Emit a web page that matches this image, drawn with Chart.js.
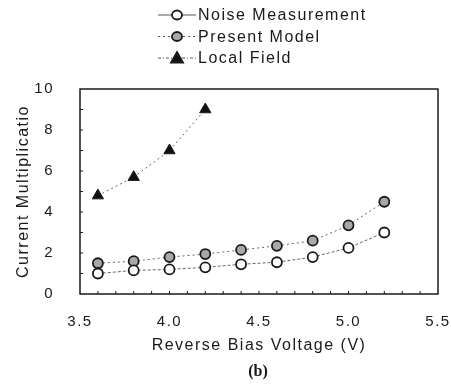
<!DOCTYPE html>
<html lang="en">
<head>
  <meta charset="UTF-8" />
  <title>Current Multiplication vs Reverse Bias</title>
  <script src="https://cdn.jsdelivr.net/npm/chart.js"></script>
  <style>
    body { margin: 0; background: #fff; }
    canvas { display: block; }
  </style>
</head>
<body>

<canvas id="multChart" width="451" height="390"></canvas>

<script>
  const voltage = [3.6, 3.8, 4.0, 4.2, 4.4, 4.6, 4.8, 5.0, 5.2];
  const noiseMeasurement = [1.0, 1.15, 1.2, 1.3, 1.45, 1.55, 1.8, 2.25, 3.0];
  const presentModel = [1.5, 1.6, 1.8, 1.95, 2.15, 2.35, 2.6, 3.35, 4.5];
  const localFieldVoltage = [3.6, 3.8, 4.0, 4.2];
  const localField = [4.8, 5.7, 7.0, 9.0];
  const xTicks = [3.5, 4.0, 4.5, 5.0, 5.5];
  const yTicks = [0, 2, 4, 6, 8, 10];

  const FONT = "'Liberation Sans', Arial, sans-serif";
  const ink = "#1a1a1a";

  function pairs(xs, ys) {
    return ys.map((y, i) => ({ x: xs[i], y: y }));
  }

  // frame, inward ticks, legend and caption
  const decorations = {
    id: "decorations",
    beforeDraw(chart) {
      chart.ctx.letterSpacing = "1.5px";
    },
    afterDraw(chart) {
      const ctx = chart.ctx;
      const a = chart.chartArea;
      const xs = chart.scales.x, ys = chart.scales.y;
      ctx.save();
      ctx.letterSpacing = "0px";
      ctx.strokeStyle = ink;
      ctx.lineWidth = 1.5;
      ctx.strokeRect(a.left, a.top, a.right - a.left, a.bottom - a.top);

      ctx.lineWidth = 1;
      for (let v = 1; v < 10; v++) {
        const y = ys.getPixelForValue(v);
        ctx.beginPath(); ctx.moveTo(a.left, y); ctx.lineTo(a.left + 3, y); ctx.stroke();
      }
      for (let v = 36; v < 55; v++) {
        const x = xs.getPixelForValue(v / 10);
        ctx.beginPath(); ctx.moveTo(x, a.bottom); ctx.lineTo(x, a.bottom - 3); ctx.stroke();
      }

      // legend
      const rows = [
        { label: "Noise Measurement", dash: [], ds: 0 },
        { label: "Present Model", dash: [2, 3], ds: 1 },
        { label: "Local Field", dash: [3, 2, 1, 2], ds: 2 }
      ];
      rows.forEach((r, i) => {
        const y = 15 + i * 21.5;
        ctx.strokeStyle = "#555";
        ctx.lineWidth = 1;
        ctx.setLineDash(r.dash);
        ctx.beginPath(); ctx.moveTo(158, y); ctx.lineTo(196, y); ctx.stroke();
        ctx.setLineDash([]);
        const d = chart.data.datasets[r.ds];
        ctx.fillStyle = d.pointBackgroundColor;
        ctx.strokeStyle = ink;
        ctx.lineWidth = 1.8;
        ctx.beginPath();
        if (d.pointStyle === "triangle") {
          ctx.moveTo(177, y - 6); ctx.lineTo(183, y + 4.5); ctx.lineTo(171, y + 4.5); ctx.closePath();
        } else {
          ctx.ellipse(177, y, 5, 4.5, 0, 0, Math.PI * 2);
        }
        ctx.fill(); ctx.stroke();
        ctx.fillStyle = ink;
        ctx.letterSpacing = "1.5px";
        ctx.font = "16px " + FONT;
        ctx.textBaseline = "middle";
        ctx.textAlign = "left";
        ctx.fillText(r.label, 198, y + 1);
        ctx.letterSpacing = "0px";
      });

      ctx.font = "bold 16px 'Liberation Serif', serif";
      ctx.textAlign = "center";
      ctx.textBaseline = "middle";
      ctx.fillText("(b)", 258, 372);
      ctx.restore();
    }
  };

  new Chart(document.getElementById("multChart").getContext("2d"), {
    type: "scatter",
    data: {
      datasets: [
        {
          label: "Noise Measurement",
          data: pairs(voltage, noiseMeasurement),
          showLine: true,
          borderColor: "#666",
          borderWidth: 1,
          borderDash: [3, 2],
          pointStyle: "circle",
          pointRadius: 5,
          pointBorderWidth: 1.8,
          pointBorderColor: ink,
          pointBackgroundColor: "#ffffff"
        },
        {
          label: "Present Model",
          data: pairs(voltage, presentModel),
          showLine: true,
          borderColor: "#666",
          borderWidth: 1,
          borderDash: [2, 3],
          pointStyle: "circle",
          pointRadius: 5,
          pointBorderWidth: 1.8,
          pointBorderColor: ink,
          pointBackgroundColor: "#a8a8a8"
        },
        {
          label: "Local Field",
          data: pairs(localFieldVoltage, localField),
          showLine: true,
          borderColor: "#666",
          borderWidth: 1,
          borderDash: [2, 3],
          pointStyle: "triangle",
          pointRadius: 6.5,
          pointBorderWidth: 1,
          pointBorderColor: ink,
          pointBackgroundColor: "#111111"
        }
      ]
    },
    options: {
      responsive: false,
      animation: false,
      layout: { padding: { left: 0, right: 13, top: 89, bottom: 28 } },
      plugins: {
        legend: { display: false },
        tooltip: { enabled: false }
      },
      scales: {
        x: {
          type: "linear",
          min: 3.5,
          max: 5.5,
          afterBuildTicks: (s) => { s.ticks = xTicks.map(v => ({ value: v })); },
          afterFit: (s) => { s.height = 68; s.paddingRight = 0; s.paddingLeft = 0; },
          grid: { display: false },
          border: { display: false },
          ticks: {
            color: ink,
            font: { family: FONT, size: 15 },
            padding: 11,
            maxRotation: 0,
            callback: (v) => v.toFixed(1)
          },
          title: {
            display: true,
            text: "Reverse Bias Voltage (V)",
            color: ink,
            font: { family: FONT, size: 16 },
            padding: { top: 0, bottom: 7 }
          }
        },
        y: {
          min: 0,
          max: 10,
          afterBuildTicks: (s) => { s.ticks = yTicks.map(v => ({ value: v })); },
          afterFit: (s) => { s.width = 80; },
          grid: { display: false },
          border: { display: false },
          ticks: {
            color: ink,
            font: { family: FONT, size: 15 },
            padding: 18
          },
          title: {
            display: true,
            text: "Current Multiplicatio",
            color: ink,
            font: { family: FONT, size: 16 },
            padding: { top: 14, bottom: 0 }
          }
        }
      }
    },
    plugins: [decorations]
  });
</script>

</body>
</html>
